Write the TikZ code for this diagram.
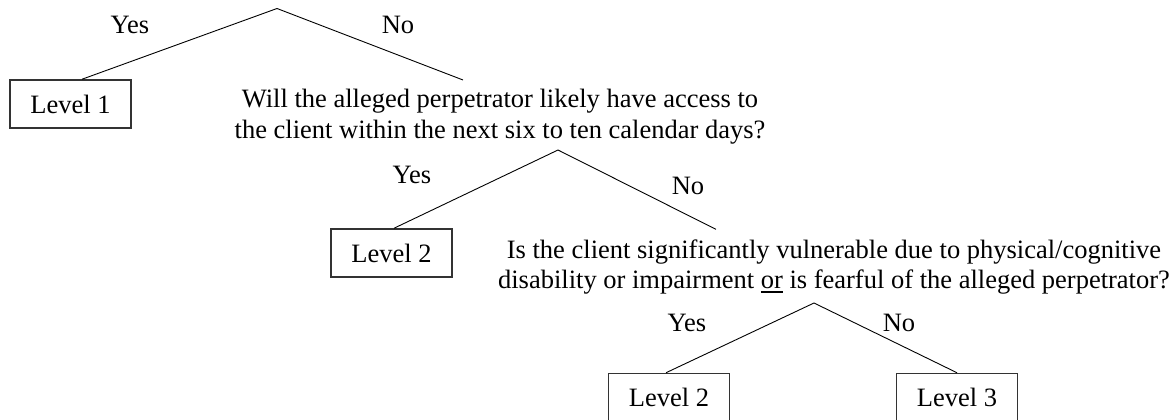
\documentclass[tikz,border=0pt]{standalone}
\usepackage{fontspec}
\setmainfont{Liberation Serif}
\newcommand\thickul[1]{\setbox0\hbox{#1}\rlap{\rule[-3.8pt]{\wd0}{2pt}}\box0\relax}
\begin{document}
\begin{tikzpicture}[x=1pt,y=-1pt,
  every node/.style={font=\fontsize{26.5}{30.5}\selectfont},
  lvl/.style={draw=black!80,line width=1.5pt,minimum width=121pt,minimum height=48pt,inner sep=0pt},
  qtext/.style={align=center,inner xsep=0pt},
  lbl/.style={inner sep=0pt},
  branch/.style={line width=0.9pt,black}]
\useasboundingbox (0,0) rectangle (1176,420);
\fill[white] (0,0) rectangle (1176,420);
% nodes
\node[lvl] (l1) at (70.5,104) {Level 1};
\node[qtext,inner ysep=9pt] (q2) at (500,116.5) {Will the alleged perpetrator likely have access to\\the client within the next six to ten calendar days?};
\node[lvl] (l2) at (391.5,253) {Level 2};
\node[qtext,inner ysep=10pt] (q3) at (834,267) {Is the client significantly vulnerable due to physical/cognitive\\disability or impairment \thickul{or} is fearful of the alleged perpetrator?};
\node[lvl] (l2b) at (669,397.5) {Level 2};
\node[lvl] (l3) at (957,397.5) {Level 3};
% apexes
\coordinate (a1) at (277,8.5);
\coordinate (a2) at (558,150);
\coordinate (a3) at (814,303);
% labels
\node[lbl] (y1) at (130,25) {Yes};
\node[lbl] (n1) at (398,25) {No};
\node[lbl] (y2) at (412,175) {Yes};
\node[lbl] (n2) at (688,186) {No};
\node[lbl] (y3) at (687,323) {Yes};
\node[lbl] (n3) at (899,323) {No};
% connectors
\draw[branch] (a1) -- ([xshift=11.5pt]l1.north);
\draw[branch] (a1) -- ([xshift=-37pt]q2.north);
\draw[branch] (a2) -- ([xshift=2.5pt]l2.north);
\draw[branch] (a2) -- ([xshift=-118pt]q3.north);
\draw[branch] (a3) -- ([xshift=-3pt]l2b.north);
\draw[branch] (a3) -- (l3.north);
\end{tikzpicture}
\end{document}
